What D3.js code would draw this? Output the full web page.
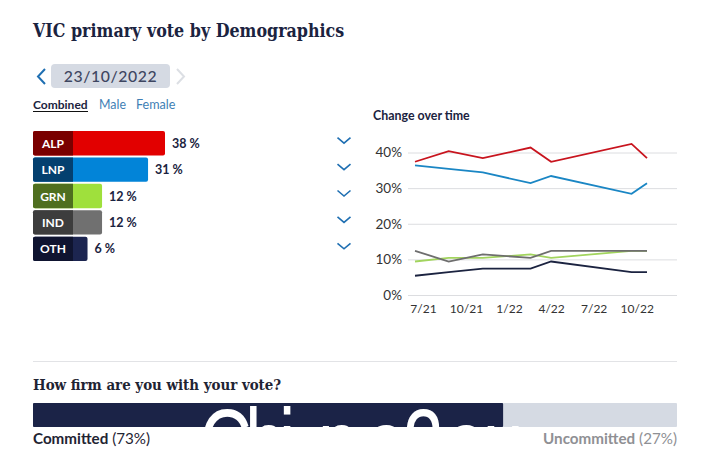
<!DOCTYPE html>
<html><head><meta charset="utf-8">
<script src="https://cdnjs.cloudflare.com/ajax/libs/d3/7.8.5/d3.min.js"></script>
<style>html,body{margin:0;background:#fff}svg{display:block}text{font-family:Lato,"Noto Sans",sans-serif}</style>
</head><body><svg id="c" width="720" height="464"></svg>
<script>
const parties = ["ALP","LNP","GRN","IND","OTH"];
const latest = [38,31,12,12,6];
const fillColors = ["#e20000","#0284d8","#9fe03c","#707070","#1c2550"];
const darkColors = ["#7a0000","#04406f","#4f6f1f","#3d3d3d","#0f1430"];
const lineColors = ["#c8141e","#1a86c4","#a2d45e","#6e6e6e","#1b2340"];
const dates = ["2021-06-14","2021-08-25","2021-11-06","2022-02-16","2022-04-01","2022-09-20","2022-10-23"];
const alp = [37.4,40.4,38.4,41.4,37.4,42.4,38.4];
const lnp = [36.4,35.4,34.4,31.4,33.4,28.4,31.4];
const grn = [9.4,10.4,10.4,11.4,10.4,12.4,12.4];
const ind = [12.4,9.4,11.4,10.4,12.4,12.4,12.4];
const oth = [5.4,6.4,7.4,7.4,9.4,6.4,6.4];
const tickDates = ["2021-07-01","2021-10-01","2022-01-01","2022-04-01","2022-07-01","2022-10-01"];
const yTicks = [0,10,20,30,40];
const committed = 73, uncommitted = 27;

const svg = d3.select("#c");
const ink = "#1b2340";
const serif = '"DejaVu Serif Condensed","DejaVu Serif",serif';
const T = (x,y,s,size,fill,weight,anchor)=>svg.append("text").attr("x",x).attr("y",y).text(s)
  .attr("font-size",size).attr("fill",fill).attr("font-weight",weight||400).attr("text-anchor",anchor||"start");

T(33,36.5,"VIC primary vote by Demographics",17.7,ink,700).style("font-family",serif);

// date picker
svg.append("path").attr("d","M45,69 L38,76.5 L45,84").attr("fill","none").attr("stroke","#1f6fb2").attr("stroke-width",2);
svg.append("rect").attr("x",51).attr("y",64).attr("width",119).attr("height",24).attr("rx",4).attr("fill","#d5dae3");
T(110.5,82,"23/10/2022",15.8,"#3e4661",500,"middle").style("letter-spacing","0.6px");
svg.append("path").attr("d","M177,69 L184,76.5 L177,84").attr("fill","none").attr("stroke","#dcdfe4").attr("stroke-width",2);

T(33,109,"Combined",12,"#1b2340",700);
svg.append("line").attr("x1",33).attr("x2",88).attr("y1",111.5).attr("y2",111.5).attr("stroke","#111").attr("stroke-width",1);
T(99,109,"Male",12.4,"#3f7fb5");
T(136,109,"Female",12.6,"#3f7fb5");

// bars
const bx = d3.scaleLinear().domain([0,38]).range([73,165]);
const by = d3.scaleBand().domain(parties).range([131,261]).paddingInner(2/26).paddingOuter(0);
parties.forEach((p,i)=>{
  const y = by(p), h = by.bandwidth();
  svg.append("rect").attr("x",33).attr("y",y).attr("width",bx(latest[i])-33).attr("height",h).attr("rx",2).attr("fill",fillColors[i]);
  svg.append("path").attr("d",`M73,${y}H35a2,2 0 0 0 -2,2V${y+h-2}a2,2 0 0 0 2,2H73Z`).attr("fill",darkColors[i]);
  T(53,y+h/2+4.5,p,12,"#fff",700,"middle");
  T(bx(latest[i])+7,y+h/2+4.5,latest[i]+" %",12.5,ink,700);
  const cy = y+h/2-3;
  svg.append("path").attr("d",`M337.5,${cy-2.5} L344,${cy+3} L350.5,${cy-2.5}`).attr("fill","none").attr("stroke","#1f6fb2").attr("stroke-width",1.6);
});

// line chart
T(373,120,"Change over time",12.4,ink,700);
const parse = d3.utcParse("%Y-%m-%d");
const x = d3.scaleUtc().domain([parse(dates[0]),parse(dates[dates.length-1])]).range([415,647]);
const y = d3.scaleLinear().domain([0,40]).range([295,152.5]);
const gridG = svg.append("g").attr("transform","translate(408,0)")
  .call(d3.axisLeft(y).tickValues(yTicks).tickSize(-269).tickPadding(6).tickFormat(d=>d+"%"));
gridG.select(".domain").remove();
gridG.selectAll(".tick line").attr("stroke","#dcdde0");
gridG.selectAll(".tick text").attr("font-size",13.5).attr("fill","#333").attr("dy","0.32em");
const xG = svg.append("g").attr("transform","translate(0,295)")
  .call(d3.axisBottom(x).tickValues(tickDates.map(parse)).tickSize(0).tickPadding(9).tickFormat(d3.utcFormat("%-m/%y")));
xG.select(".domain").remove();
xG.selectAll(".tick text").attr("font-size",12).attr("fill","#333");
const line = d3.line().x((d,i)=>x(parse(dates[i]))).y(d=>y(d));
[grn,oth,ind,lnp,alp].forEach(s=>{
  const c = s===alp?0:s===lnp?1:s===grn?2:s===ind?3:4;
  svg.append("path").attr("d",line(s)).attr("fill","none").attr("stroke",lineColors[c]).attr("stroke-width",1.8);
});

// bottom
svg.append("line").attr("x1",33).attr("x2",677).attr("y1",361.5).attr("y2",361.5).attr("stroke","#e2e3e6");
T(33,390,"How firm are you with your vote?",14.9,"#1f2433",700).style("font-family",serif);
const fx = d3.scaleLinear().domain([0,100]).range([33,677]);
svg.append("rect").attr("x",fx(0)).attr("y",403).attr("width",fx(100)-fx(0)).attr("height",24).attr("fill","#d5dae3").attr("rx",1);
svg.append("rect").attr("x",fx(0)).attr("y",403).attr("width",fx(committed)-fx(0)).attr("height",24).attr("fill","#1b2347").attr("rx",1);
svg.append("clipPath").attr("id","cl").append("rect").attr("x",33).attr("y",403).attr("width",644).attr("height",24);
const wmScale = 0.73;
const wmX = [199,245,279,318,366,403,446,483];
svg.append("g").attr("clip-path","url(#cl)").append("text")
  .attr("transform",`scale(${wmScale},1)`)
  .attr("x",wmX.map(v=>v/wmScale).join(" ")).attr("y",479)
  .attr("font-size",100).attr("fill","#fff").style("font-family",'"Liberation Sans",sans-serif').text("China2au");
const l = svg.append("text").attr("x",33).attr("y",444).attr("font-size",15.2).attr("fill","#1f2433");
l.append("tspan").attr("font-weight",700).text("Committed");
l.append("tspan").text(` (${committed}%)`);
const r = svg.append("text").attr("x",677).attr("y",444).attr("font-size",15.2).attr("fill","#8f9094").attr("text-anchor","end");
r.append("tspan").attr("font-weight",700).text("Uncommitted");
r.append("tspan").text(` (${uncommitted}%)`);
</script></body></html>
